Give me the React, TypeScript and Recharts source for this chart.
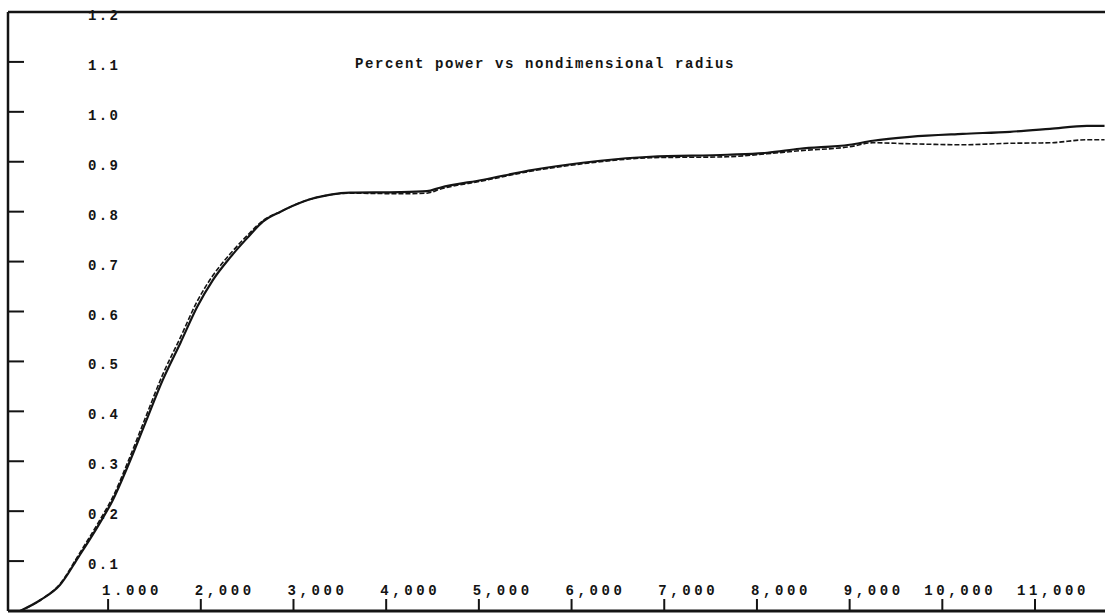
import { Line, LineChart, ReferenceLine, XAxis, YAxis } from "recharts";

// nondimensional radius (x) and percent power for the two runs
const radius = [
  0.05, 0.27, 0.48, 0.68, 0.91, 1.05, 1.21, 1.4, 1.59, 1.78, 1.96, 2.13, 2.32, 2.5, 2.67, 2.86, 3.1, 3.4, 3.61,
  4.15, 4.44, 4.58, 5.05, 5.59, 6.12, 6.31, 6.85, 7.68, 8.11, 8.46, 9.0, 9.25, 9.65, 10.22, 10.73, 11.16, 11.56,
  11.75,
];
const powerA = [
  0, 0.022, 0.052, 0.108, 0.176, 0.222, 0.289, 0.376, 0.463, 0.537, 0.609, 0.663, 0.709, 0.747, 0.78, 0.8, 0.82,
  0.834, 0.838, 0.839, 0.841, 0.848, 0.864, 0.884, 0.898, 0.902, 0.91, 0.914, 0.918, 0.926, 0.934, 0.942, 0.95, 0.956,
  0.96, 0.966, 0.972, 0.972,
];
const powerB = [
  0, 0.022, 0.054, 0.112, 0.182, 0.228, 0.297, 0.386, 0.474, 0.548, 0.62, 0.672, 0.716, 0.752, 0.782, 0.8, 0.82,
  0.834, 0.837, 0.836, 0.837, 0.845, 0.862, 0.882, 0.896, 0.9, 0.908, 0.91, 0.916, 0.922, 0.93, 0.938, 0.936, 0.934,
  0.937, 0.938, 0.944, 0.944,
];

const xTicks = [1, 2, 3, 4, 5, 6, 7, 8, 9, 10, 11];
const xTickLabels = ["1.000", "2,000", "3,000", "4,000", "5,000", "6,000", "7,000", "8,000", "9,000", "10,000", "11,000"];
const yTicks = [0.1, 0.2, 0.3, 0.4, 0.5, 0.6, 0.7, 0.8, 0.9, 1.0, 1.1, 1.2];
const yTickLabels = ["0.1", "0.2", "0.3", "0.4", "0.5", "0.6", "0.7", "0.8", "0.9", "1.0", "1.1", "1.2"];
const TITLE = "Percent power vs nondimensional radius";

const FONT = '"Liberation Mono", "DejaVu Sans Mono", monospace';
const INK = "#141414";
const CHAR_W = 12; // advance of the x labels (8.4 glyph + letter spacing)

const rows = radius.map((r, i) => ({ r, a: powerA[i], b: powerB[i] }));

function XTick(props: any) {
  const { x, y, payload } = props;
  const idx = xTicks.indexOf(payload.value);
  const label = xTickLabels[idx] ?? String(payload.value);
  const intDigits = label.search(/[.,]/);
  // put the units digit over the tick, like the plotter did
  return (
    <text
      x={x - (intDigits * CHAR_W - CHAR_W / 2)}
      y={y}
      fontFamily={FONT}
      fontSize={14}
      fontWeight="bold"
      letterSpacing={3.6}
      fill={INK}
      textAnchor="start"
    >
      {label}
    </text>
  );
}

function YTick(props: any) {
  const { x, y, payload } = props;
  const idx = yTicks.indexOf(payload.value);
  const label = yTickLabels[idx] ?? String(payload.value);
  return (
    <text
      x={x}
      y={y + 8}
      fontFamily={FONT}
      fontSize={14}
      fontWeight="bold"
      letterSpacing={2.4}
      fill={INK}
      textAnchor="start"
    >
      {label}
    </text>
  );
}

export default function App() {
  return (
    <div style={{ position: "relative", width: 1105, height: 615, background: "#fff" }}>
      <style>{"body{margin:0;}"}</style>
      <LineChart width={1105} height={615} data={rows} margin={{ top: 12, right: 0, bottom: 4, left: 8 }}>
        <XAxis
          type="number"
          dataKey="r"
          domain={[-0.08, 11.755]}
          ticks={xTicks}
          allowDataOverflow
          mirror
          tickSize={12}
          tickMargin={4}
          axisLine={{ stroke: INK, strokeWidth: 3 }}
          tickLine={{ stroke: INK, strokeWidth: 2 }}
          tick={(p: any) => <XTick {...p} />}
        />
        <YAxis
          type="number"
          domain={[0, 1.2]}
          ticks={yTicks}
          allowDataOverflow
          mirror
          tickSize={16}
          tickMargin={64}
          axisLine={{ stroke: INK, strokeWidth: 2.5 }}
          tickLine={{ stroke: INK, strokeWidth: 2 }}
          tick={(p: any) => <YTick {...p} />}
        />
        <ReferenceLine y={1.2} stroke={INK} strokeWidth={2.5} />
        <Line
          type="monotone"
          dataKey="a"
          stroke={INK}
          strokeWidth={2.2}
          dot={false}
          isAnimationActive={false}
        />
        <Line
          type="monotone"
          dataKey="b"
          stroke={INK}
          strokeWidth={1.6}
          strokeDasharray="5 2"
          dot={false}
          isAnimationActive={false}
        />
      </LineChart>
      <div
        style={{
          position: "absolute",
          left: 355,
          top: 57,
          fontFamily: FONT,
          fontSize: 14,
          fontWeight: "bold",
          lineHeight: "14px",
          letterSpacing: 1.6,
          color: INK,
          whiteSpace: "pre",
        }}
      >
        {TITLE}
      </div>
    </div>
  );
}
